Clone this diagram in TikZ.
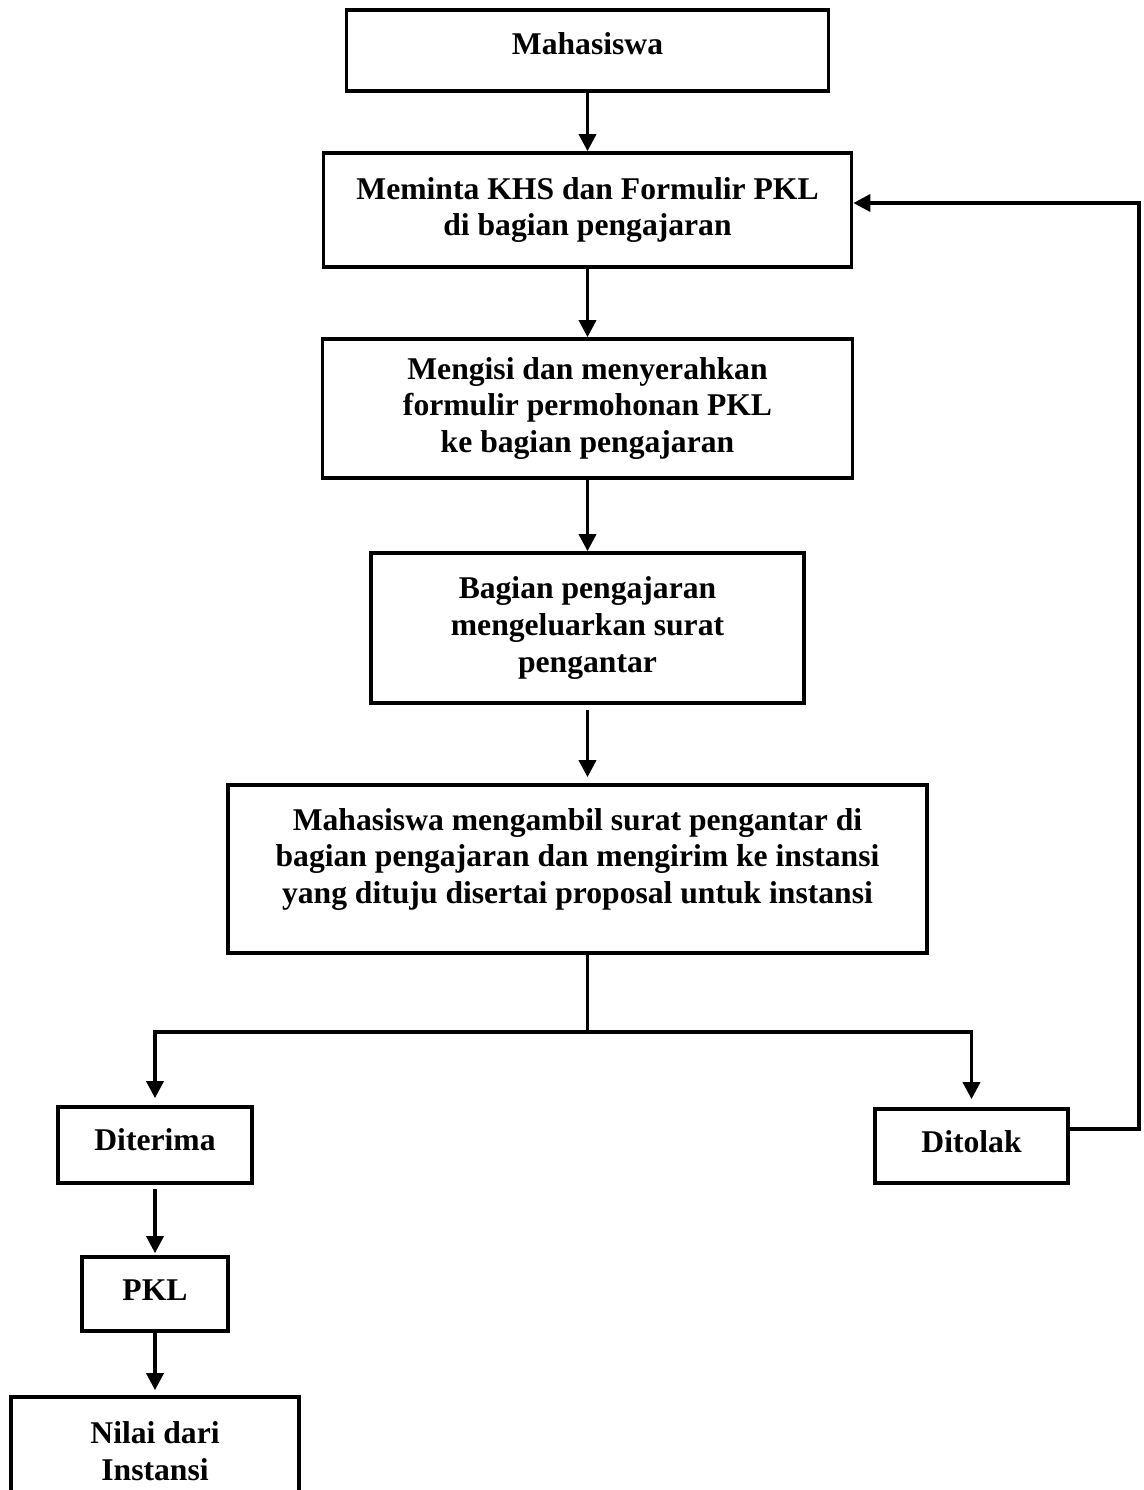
\documentclass[tikz,border=0pt]{standalone}
\usepackage{fontspec}
\setmainfont{Liberation Serif}
\usetikzlibrary{arrows.meta}
\tikzset{
  kotak/.style={draw,line width=2.1pt,align=center,font=\bfseries\fontsize{18}{21}\selectfont,inner sep=0pt},
  panah/.style={line width=2pt,-{Triangle[length=0.34cm,width=0.34cm]}},
  garis/.style={line width=2pt}
}
\begin{document}
\begin{tikzpicture}
\useasboundingbox (0,0) rectangle (22.86,-29.8);
\clip (0,0) rectangle (22.86,-29.8);
\node[kotak,minimum width=9.64cm,minimum height=1.62cm,text depth=0.28cm] (mhs) at (11.75,-1.01) {Mahasiswa};
\node[kotak,minimum width=10.56cm,minimum height=2.28cm] (khs) at (11.75,-4.2) {Meminta KHS dan Formulir PKL\\di bagian pengajaran};
\node[kotak,minimum width=10.6cm,minimum height=2.78cm] (isi) at (11.75,-8.17) {Mengisi dan menyerahkan\\formulir permohonan PKL\\ke bagian pengajaran};
\node[kotak,minimum width=8.66cm,minimum height=3cm] (surat) at (11.75,-12.56) {Bagian pengajaran\\mengeluarkan surat\\pengantar};
\node[kotak,minimum width=13.98cm,minimum height=3.36cm,text depth=0.52cm] (ambil) at (11.55,-17.38) {Mahasiswa mengambil surat pengantar di\\bagian pengajaran dan mengirim ke instansi\\yang dituju disertai proposal untuk instansi};
\node[kotak,minimum width=3.88cm,minimum height=1.52cm,text depth=0.2cm] (terima) at (3.1,-22.9) {Diterima};
\node[kotak,minimum width=3.86cm,minimum height=1.48cm,text depth=0.16cm] (tolak) at (19.43,-22.92) {Ditolak};
\node[kotak,minimum width=2.92cm,minimum height=1.48cm,text depth=0.16cm] (pkl) at (3.1,-25.88) {PKL};
\node[kotak,minimum width=5.76cm,minimum height=2.16cm] (nilai) at (3.1,-29.02) {Nilai dari\\Instansi};
\coordinate (cabang) at (11.75,-20.64);
\coordinate (balik) at (22.78,-4.06);
% alur utama
\draw[panah] (mhs) -- (khs);
\draw[panah] (khs) -- (isi);
\draw[panah] (isi) -- (surat);
\draw[panah,shorten <=0.1cm,shorten >=0.12cm] (surat.south) -- (surat.south |- ambil.north);
\draw[garis] (surat.south |- ambil.south) -- (cabang);
\draw[panah,shorten >=0.14cm] (cabang) -| (terima.north);
\draw[panah,shorten >=0.16cm] (cabang) -| (tolak.north);
\draw[panah,shorten <=0.08cm,shorten >=0.04cm] (terima) -- (pkl);
\draw[panah,shorten >=0.1cm] (pkl) -- (nilai);
% kembali jika ditolak
\draw[panah] ([yshift=0.34cm]tolak.east) -| (balik) |- ([yshift=0.14cm]khs.east);
\end{tikzpicture}
\end{document}
